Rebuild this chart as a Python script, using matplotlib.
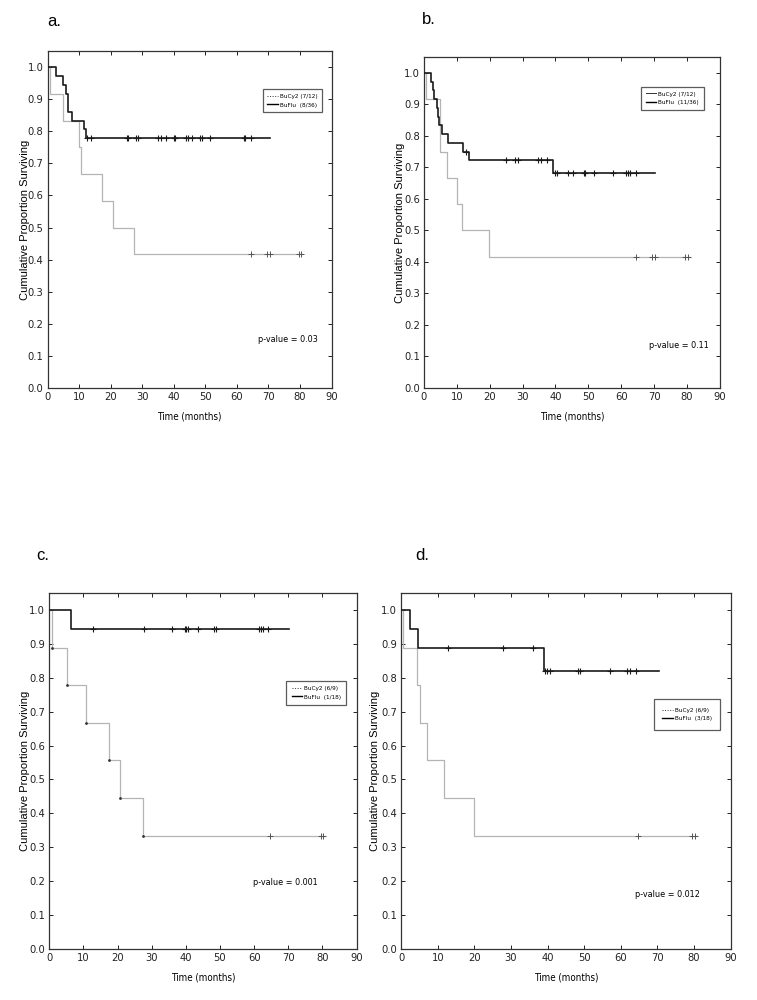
import numpy as np
import matplotlib
matplotlib.use("Agg")
import matplotlib.pyplot as plt
from matplotlib.lines import Line2D

plt.rcParams['font.family'] = ['DejaVu Sans']
plt.rcParams['font.stretch'] = 'condensed'

# panel a
A_CY_T = [0, 0.7, 5.0, 10.0, 10.6, 17.3, 20.6, 27.5, 80.5]
A_CY_S = [1.0, 0.917, 0.833, 0.75, 0.667, 0.583, 0.5, 0.417, 0.417]
A_CY_CENS = [64.6, 69.4, 70.5, 79.8, 80.4]
A_FL_T = [0, 2.5, 5.0, 5.8, 6.5, 7.7, 11.5, 12.1, 70.5]
A_FL_S = [1.0, 0.972, 0.944, 0.917, 0.861, 0.833, 0.806, 0.778, 0.778]
A_FL_CENS = [12.6, 13.7, 25.0, 25.5, 28.0, 28.7, 34.9, 35.9, 37.5, 40.0, 40.4,
             44.0, 44.6, 45.6, 48.3, 48.8, 51.4, 62.1, 62.6, 64.3]

# panel b
B_CY_T = [0, 0.5, 4.8, 5.0, 7.1, 10.0, 11.7, 19.7, 80.9]
B_CY_S = [1.0, 0.917, 0.833, 0.75, 0.667, 0.583, 0.5, 0.417, 0.417]
B_CY_CENS = [64.6, 69.2, 70.4, 79.5, 80.4]
B_FL_T = [0, 2.2, 2.7, 3.2, 4.1, 4.3, 4.6, 5.6, 7.3, 11.8, 13.6, 39.1, 70.2]
B_FL_S = [1.0, 0.972, 0.944, 0.917, 0.889, 0.861, 0.833, 0.806, 0.778, 0.75, 0.722, 0.681, 0.681]
B_FL_CENS = [12.7, 25.1, 27.6, 28.6, 34.7, 35.7, 37.3, 39.8, 40.6, 43.8, 45.4,
             48.6, 49.1, 51.7, 57.5, 61.4, 62.1, 62.8, 64.4]

# panel c
C_CY_T = [0, 0.7, 5.3, 10.9, 17.5, 20.7, 27.5, 80.7]
C_CY_S = [1.0, 0.889, 0.778, 0.667, 0.556, 0.444, 0.333, 0.333]
C_CY_CENS = [64.8, 79.6, 80.2]
C_FL_T = [0, 6.3, 70.3]
C_FL_S = [1.0, 0.944, 0.944]
C_FL_CENS = [12.9, 27.8, 36.0, 39.7, 40.0, 40.5, 43.6, 48.3, 48.8, 61.4, 61.9, 62.7, 64.2]

# panel d
D_CY_T = [0, 0.45, 4.4, 5.0, 7.0, 11.7, 19.8, 80.7]
D_CY_S = [1.0, 0.889, 0.778, 0.667, 0.556, 0.444, 0.333, 0.333]
D_CY_CENS = [64.7, 79.6, 80.4]
D_FL_T = [0, 2.3, 4.65, 38.9, 70.5]
D_FL_S = [1.0, 0.944, 0.889, 0.82, 0.82]
D_FL_CENS = [12.9, 27.8, 36.1, 39.2, 39.8, 40.6, 48.3, 48.8, 57.2, 61.8, 62.5, 64.3]

PANELS = [
    ("a.", [0.063, 0.612, 0.375, 0.337], A_CY_T, A_CY_S, A_CY_CENS, A_FL_T, A_FL_S, A_FL_CENS,
     ["BuCy2 (7/12)", "BuFlu  (8/36)"], ':', (0.758, 0.886), 0.0, "p-value = 0.03", (0.74, 0.145)),
    ("b.", [0.560, 0.612, 0.391, 0.331], B_CY_T, B_CY_S, B_CY_CENS, B_FL_T, B_FL_S, B_FL_CENS,
     ["BuCy2 (7/12)", "BuFlu  (11/36)"], '-', (0.734, 0.910), 0.0, "p-value = 0.11", (0.76, 0.129)),
    ("c.", [0.065, 0.051, 0.406, 0.356], C_CY_T, C_CY_S, C_CY_CENS, C_FL_T, C_FL_S, C_FL_CENS,
     ["BuCy2 (6/9)", "BuFlu  (1/18)"], ':', (0.772, 0.754), 0.1, "p-value = 0.001", (0.663, 0.186)),
    ("d.", [0.530, 0.051, 0.435, 0.356], D_CY_T, D_CY_S, D_CY_CENS, D_FL_T, D_FL_S, D_FL_CENS,
     ["BuCy2 (6/9)", "BuFlu  (3/18)"], ':', (0.768, 0.702), 0.6, "p-value = 0.012", (0.709, 0.152)),
]
LETTER_POS = {"a.": (0.062, 0.978), "b.": (0.558, 0.980), "c.": (0.048, 0.444), "d.": (0.548, 0.444)}

GRAY = '#b4b4b4'
DARK = '#1a1a1a'
PLAIN = dict(family=['Liberation Sans', 'DejaVu Sans'], stretch='normal')


def surv_at(times, surv, t):
    idx = np.searchsorted(times, t, side='right') - 1
    return np.asarray(surv)[idx]


fig = plt.figure(figsize=(7.57, 10), dpi=100)

for (lab, pos, cy_t, cy_s, cy_c, fl_t, fl_s, fl_c, leg_labels, cy_ls, leg_anchor, leg_pad,
     ptext, ppos) in PANELS:
    ax = fig.add_axes(pos)
    ax.step(cy_t, cy_s, where='post', color=GRAY, lw=0.9, zorder=2)
    ax.plot(cy_c, surv_at(cy_t, cy_s, cy_c), '+', color='#555555', ms=5, mew=0.7, zorder=3)
    if lab == "c.":
        ax.plot(cy_t[1:-1], cy_s[1:-1], '.', color='#333333', ms=2, zorder=3)
    ax.step(fl_t, fl_s, where='post', color=DARK, lw=1.2, zorder=4)
    ax.plot(fl_c, surv_at(fl_t, fl_s, fl_c), '+', color=DARK, ms=5, mew=0.8, zorder=5)

    ax.set_xlim(0, 90)
    ax.set_ylim(0, 1.05)
    ax.set_xticks(np.arange(0, 91, 10))
    ax.set_yticks(np.arange(0, 1.01, 0.1))
    ax.set_yticklabels([f"{v:.1f}" for v in np.arange(0, 1.01, 0.1)])
    ax.tick_params(direction='in', top=True, right=True, length=3, width=0.7,
                   labelsize=8, colors='#222222', pad=3)
    for sp in ax.spines.values():
        sp.set_linewidth(0.9)
        sp.set_color('#333333')

    ax.set_xlabel("Time (months)", fontsize=7, labelpad=7)
    ax.set_ylabel("Cumulative Proportion Surviving", fontsize=8, **PLAIN)
    ax.yaxis.set_label_coords(-0.064, 0.5)

    handles = [Line2D([0], [0], color='#333333', lw=0.7, ls=cy_ls),
               Line2D([0], [0], color='black', lw=1.0)]
    leg = ax.legend(handles, leg_labels, loc='upper left', bbox_to_anchor=leg_anchor,
                    fontsize=4.6, frameon=True, fancybox=False,
                    handlelength=1.6, handletextpad=0.4, borderpad=0.7 + leg_pad,
                    labelspacing=0.45, borderaxespad=0)
    leg.get_frame().set_edgecolor('#333333')
    leg.get_frame().set_linewidth(0.9)

    ax.text(ppos[0], ppos[1], ptext, transform=ax.transAxes, fontsize=6.5, ha='left', va='center')

    lx, ly = LETTER_POS[lab]
    fig.text(lx, ly, lab, fontsize=12, va='center', **PLAIN)

fig.savefig("out.png", dpi=100)
